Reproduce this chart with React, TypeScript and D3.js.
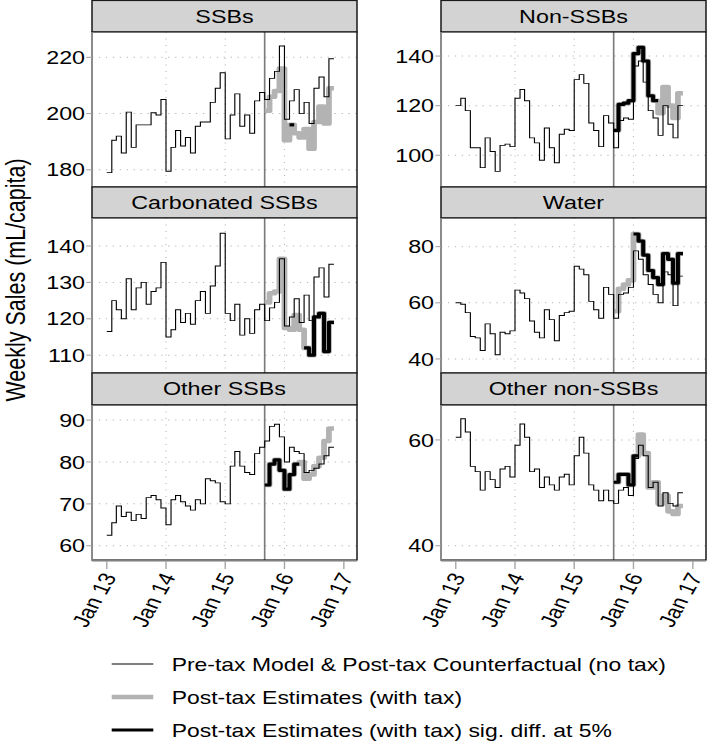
import React from "react";
import * as d3 from "d3";

// ---------- data ----------
// monthly periods Jan 2013 .. Nov 2016 (the last date closes the final step)
const MONTHS: Date[] = d3.timeMonth.range(new Date(2013, 0, 1), new Date(2016, 11, 1));
const POST_START_INDEX = 32; // Sep 2015
const TAX_DATE = new Date(2015, 8, 1);
const X_TICK_DATES = [
  new Date(2013, 0, 1),
  new Date(2014, 0, 1),
  new Date(2015, 0, 1),
  new Date(2016, 0, 1),
  new Date(2017, 0, 1),
];
const X_GRID_DATES = [new Date(2014, 0, 1), new Date(2015, 0, 1), new Date(2016, 0, 1)];
const X_DOMAIN: [Date, Date] = [new Date(2012, 9, 2), new Date(2017, 2, 23)];

const PANEL_TITLES = ["SSBs", "Non-SSBs", "Carbonated SSBs", "Water", "Other SSBs", "Other non-SSBs"];

// counterfactual (pre-tax model & post-tax counterfactual)
const SSB_CF = [179, 190.5, 192, 186, 200.5, 188, 196, 196, 196, 200.3, 199.5, 205, 179.5, 188, 194, 188.5, 191.5, 186, 195.5, 197, 197, 204, 209, 214.5, 191, 199.5, 207, 195.5, 199.5, 193, 204.5, 207.5, 205, 212.5, 215, 224, 198, 204.5, 208.5, 200, 204, 196.5, 209, 213, 206, 219.5];
const NON_CF = [120, 123, 118, 103, 103, 95, 107, 101.5, 93.5, 104, 104.5, 103.5, 123, 126.5, 122, 107, 105, 98, 111, 103, 97, 108.5, 110.5, 110, 130.5, 132.5, 129, 113, 110, 103.5, 116, 113, 103, 114, 115, 114.5, 136, 138, 129.5, 118, 115, 108, 120, 112.5, 107, 120];
const CARB_CF = [116.5, 125, 122.5, 120, 131, 122.5, 128.5, 130, 124, 127.5, 128.5, 135.5, 115, 117, 122.5, 119, 121.5, 118.5, 125, 127.5, 121.5, 129, 134.5, 143.5, 121.5, 119.5, 124, 115.5, 120, 116, 122.5, 124, 119.5, 123, 124.5, 136.5, 118, 120.5, 125.5, 119, 126.5, 119.5, 131.5, 134, 126, 135];
const WATER_CF = [60, 59.5, 56.5, 48, 47.5, 43, 52.5, 49, 41.5, 49.5, 49, 50, 64.5, 63.5, 61.5, 53.5, 49.5, 47.5, 57.5, 54, 46.5, 55.5, 56.5, 57, 73, 72, 70, 60.5, 57.5, 54.5, 65.5, 63, 54.5, 63, 63.5, 65.5, 78.5, 75.5, 70, 66.5, 63, 60, 71, 70, 59, 69.5];
const OTHER_CF = [62.5, 65.5, 69.5, 67, 68, 66, 67.5, 66.5, 71.5, 72, 71, 69, 65, 71, 72, 70.5, 69.5, 68.5, 71, 70, 76, 75.5, 75, 70.5, 70, 79, 82.5, 79, 77.5, 77, 82, 83.5, 85, 88.5, 89, 86, 80, 83.5, 82.5, 82, 77.5, 78, 78.5, 79.5, 81.5, 83.5];
const ONS_CF = [60.5, 64, 61.5, 55, 54, 50.5, 54, 52.5, 51, 54.5, 55, 53, 59, 63, 60.5, 54, 54.5, 51, 53, 51.5, 50.5, 53, 53.5, 51.5, 57, 60.5, 57.5, 51.5, 50.5, 48.5, 50.5, 48.5, 48, 50.5, 51, 49.5, 56.5, 59, 57, 51, 52, 47.5, 50, 48, 47.5, 50];

// post-tax estimates (with tax), Sep 2015 .. Oct 2016
const SSB_POST = [201, 206, 208, 216, 190.5, 196, 193, 191.5, 194.5, 187.5, 197, 202.5, 196.5, 209];
const NON_POST = [110, 120.5, 121, 122, 141, 143.5, 138, 124, 122, 117, 127.5, 120, 115, 125];
const CARB_POST = [124.5, 127, 127.5, 136.5, 117.5, 117, 121, 117, 112, 110, 120.5, 121.5, 111, 119];
const WATER_POST = [57, 65, 66.5, 68, 84.5, 82, 77, 71.5, 69, 66.5, 77.5, 75.5, 67, 77.5];
const OTHER_POST = [74.5, 79.5, 80.5, 78, 73.5, 77, 79.5, 80, 76, 77, 79, 81, 85, 88];
const ONS_POST = [52, 53.5, 53.5, 51.5, 57, 61, 57.5, 51, 52, 48, 49.5, 46.5, 46, 47.5];

// significant difference at 5% (1 = yes)
const SSB_SIG = [0, 0, 0, 0, 0, 1, 0, 0, 0, 0, 0, 0, 0, 0];
const NON_SIG = [1, 1, 1, 1, 1, 1, 1, 1, 1, 0, 0, 0, 0, 0];
const CARB_SIG = [0, 0, 0, 0, 0, 0, 0, 0, 1, 1, 1, 1, 1, 1];
const WATER_SIG = [0, 0, 0, 0, 1, 1, 1, 1, 1, 1, 1, 1, 1, 1];
const OTHER_SIG = [1, 1, 1, 1, 1, 1, 1, 0, 0, 0, 0, 0, 0, 0];
const ONS_SIG = [1, 1, 1, 1, 1, 0, 0, 0, 0, 0, 0, 0, 0, 0];

const Y_TICKS = [
  [180, 200, 220],
  [100, 120, 140],
  [110, 120, 130, 140],
  [40, 60, 80],
  [60, 70, 80, 90],
  [40, 60],
];
const Y_DOMAINS: [number, number][] = [
  [173.9, 229],
  [87.2, 149.7],
  [105.1, 147.7],
  [35.0, 90.2],
  [56.6, 93.6],
  [37.3, 66.6],
];

const LEGEND_LABELS = [
  "Pre-tax Model & Post-tax Counterfactual (no tax)",
  "Post-tax Estimates (with tax)",
  "Post-tax Estimates (with tax) sig. diff. at 5%",
];

// ---------- layout ----------
const SX = 1.26; // horizontal stretch of the reference picture
const W = 709 / SX;
const H = 755;
const FONT = "'Liberation Sans', Arial, Helvetica, sans-serif";
const COLS: [number, number][] = [
  [92 / SX, 357 / SX],
  [441 / SX, 706 / SX],
];
const ROWS = [
  { strip: 0.5, top: 32, bottom: 187 },
  { strip: 187, top: 218, bottom: 373 },
  { strip: 373, top: 405, bottom: 560 },
];

const PANELS = [
  { cf: SSB_CF, post: SSB_POST, sig: SSB_SIG },
  { cf: NON_CF, post: NON_POST, sig: NON_SIG },
  { cf: CARB_CF, post: CARB_POST, sig: CARB_SIG },
  { cf: WATER_CF, post: WATER_POST, sig: WATER_SIG },
  { cf: OTHER_CF, post: OTHER_POST, sig: OTHER_SIG },
  { cf: ONS_CF, post: ONS_POST, sig: ONS_SIG },
];

type Pt = [Date, number];

function Panel({ idx }: { idx: number }) {
  const p = PANELS[idx];
  const col = idx % 2;
  const row = Math.floor(idx / 2);
  const [left, right] = COLS[col];
  const { strip, top, bottom } = ROWS[row];
  const x = d3.scaleTime().domain(X_DOMAIN).range([left, right]);
  const y = d3.scaleLinear().domain(Y_DOMAINS[idx]).range([bottom, top]);
  const line = d3
    .line<Pt>()
    .x((d) => x(d[0]))
    .y((d) => y(d[1]))
    .curve(d3.curveStepAfter);

  const cfPts: Pt[] = p.cf.map((v, i) => [MONTHS[i], v] as Pt);
  cfPts.push([MONTHS[p.cf.length], p.cf[p.cf.length - 1]]);
  const postPts: Pt[] = p.post.map((v, i) => [MONTHS[POST_START_INDEX + i], v] as Pt);
  postPts.push([MONTHS[POST_START_INDEX + p.post.length], p.post[p.post.length - 1]]);

  const sigRuns: Pt[][] = [];
  let i = 0;
  while (i < p.sig.length) {
    if (p.sig[i]) {
      let j = i;
      while (j + 1 < p.sig.length && p.sig[j + 1]) j++;
      const run: Pt[] = [];
      for (let k = i; k <= j; k++) run.push([MONTHS[POST_START_INDEX + k], p.post[k]]);
      run.push([MONTHS[POST_START_INDEX + j + 1], p.post[j]]);
      sigRuns.push(run);
      i = j + 1;
    } else i++;
  }

  const clipId = `clip-${idx}`;
  const gridColor = "#b5b5b5";
  const axisColor = "#a6a6a6";
  const frame = "#1a1a1a";
  const showX = row === 2;

  return (
    <g>
      <defs>
        <clipPath id={clipId}>
          <rect x={left} y={top} width={right - left} height={bottom - top} />
        </clipPath>
      </defs>
      {/* strip */}
      <rect x={left} y={strip} width={right - left} height={top - strip} fill="#d3d3d3" stroke={frame} strokeWidth={1.2} />
      <text x={(left + right) / 2} y={(strip + top) / 2 + 6.5} textAnchor="middle" fontSize={18.5} fill="#000">
        {PANEL_TITLES[idx]}
      </text>
      {/* plot background */}
      <rect x={left} y={top} width={right - left} height={bottom - top} fill="#fff" />
      {/* grid */}
      {Y_TICKS[idx].map((t) => (
        <line key={"gy" + t} x1={left} x2={right} y1={y(t)} y2={y(t)} stroke={gridColor} strokeWidth={1} strokeDasharray="1 4.5" />
      ))}
      {X_GRID_DATES.map((d, k) => (
        <line key={"gx" + k} x1={x(d)} x2={x(d)} y1={top} y2={bottom} stroke={gridColor} strokeWidth={0.9} strokeDasharray="1 5.5" />
      ))}
      {/* tax line */}
      <line x1={x(TAX_DATE)} x2={x(TAX_DATE)} y1={top} y2={bottom} stroke="#7a7a7a" strokeWidth={1.3} />
      <g clipPath={`url(#${clipId})`}>
        <path d={line(postPts) || ""} fill="none" stroke="#b3b3b3" strokeWidth={4.6} strokeLinejoin="round" />
        <path d={line(cfPts) || ""} fill="none" stroke="#000" strokeWidth={0.9} />
        {sigRuns.map((r, k) => (
          <path key={k} d={line(r) || ""} fill="none" stroke="#000" strokeWidth={3.2} strokeLinejoin="round" />
        ))}
      </g>
      {/* frame */}
      <rect x={left} y={top} width={right - left} height={bottom - top} fill="none" stroke={frame} strokeWidth={1.2} />
      {/* y axis */}
      <line x1={left} x2={left} y1={top} y2={bottom} stroke={axisColor} strokeWidth={1.1} />
      {Y_TICKS[idx].map((t) => (
        <g key={"yt" + t}>
          <line x1={left - 4.5} x2={left} y1={y(t)} y2={y(t)} stroke={axisColor} strokeWidth={1.1} />
          <text x={left - 5.5} y={y(t)} dy="0.36em" textAnchor="end" fontSize={18.5} fill="#000">
            {t}
          </text>
        </g>
      ))}
      {/* x axis */}
      {showX && (
        <g>
          <line x1={left} x2={right} y1={bottom + 1.2} y2={bottom + 1.2} stroke={axisColor} strokeWidth={1.1} />
          {X_TICK_DATES.map((d, k) => (
            <g key={"xt" + k}>
              <line x1={x(d)} x2={x(d)} y1={bottom + 1} y2={bottom + 9} stroke={axisColor} strokeWidth={1.1} />
              <text
                transform={`translate(${x(d) + 2},${bottom + 14}) rotate(-65)`}
                textAnchor="end"
                dy="0.35em"
                fontSize={19}
                fill="#000"
              >
                {d3.timeFormat("%b %y")(d)}
              </text>
            </g>
          ))}
        </g>
      )}
    </g>
  );
}

export default function App() {
  const legendRows = [664, 697, 730];
  const lx1 = 111.7 / SX;
  const lx2 = 153.3 / SX;
  const tx = 171.7 / SX;
  const styles = [
    { stroke: "#000", w: 0.9 },
    { stroke: "#b3b3b3", w: 4.6 },
    { stroke: "#000", w: 3.2 },
  ];
  return (
    <svg
      width={709}
      height={755}
      viewBox={`0 0 ${W} ${H}`}
      preserveAspectRatio="none"
      style={{ position: "absolute", left: 0, top: 0, display: "block", background: "#fff" }}
      fontFamily={FONT}
    >
      <rect x={0} y={0} width={W} height={H} fill="#fff" />
      {PANELS.map((_, idx) => (
        <Panel key={idx} idx={idx} />
      ))}
      <text transform={`translate(${19.6},${280}) rotate(-90)`} textAnchor="middle" fontSize={21.5} fill="#000">
        Weekly Sales (mL/capita)
      </text>
      {LEGEND_LABELS.map((lab, k) => (
        <g key={k}>
          <line x1={lx1} x2={lx2} y1={legendRows[k]} y2={legendRows[k]} stroke={styles[k].stroke} strokeWidth={styles[k].w} />
          <text x={tx} y={legendRows[k]} dy="0.36em" fontSize={18.2} fill="#000">
            {lab}
          </text>
        </g>
      ))}
    </svg>
  );
}
